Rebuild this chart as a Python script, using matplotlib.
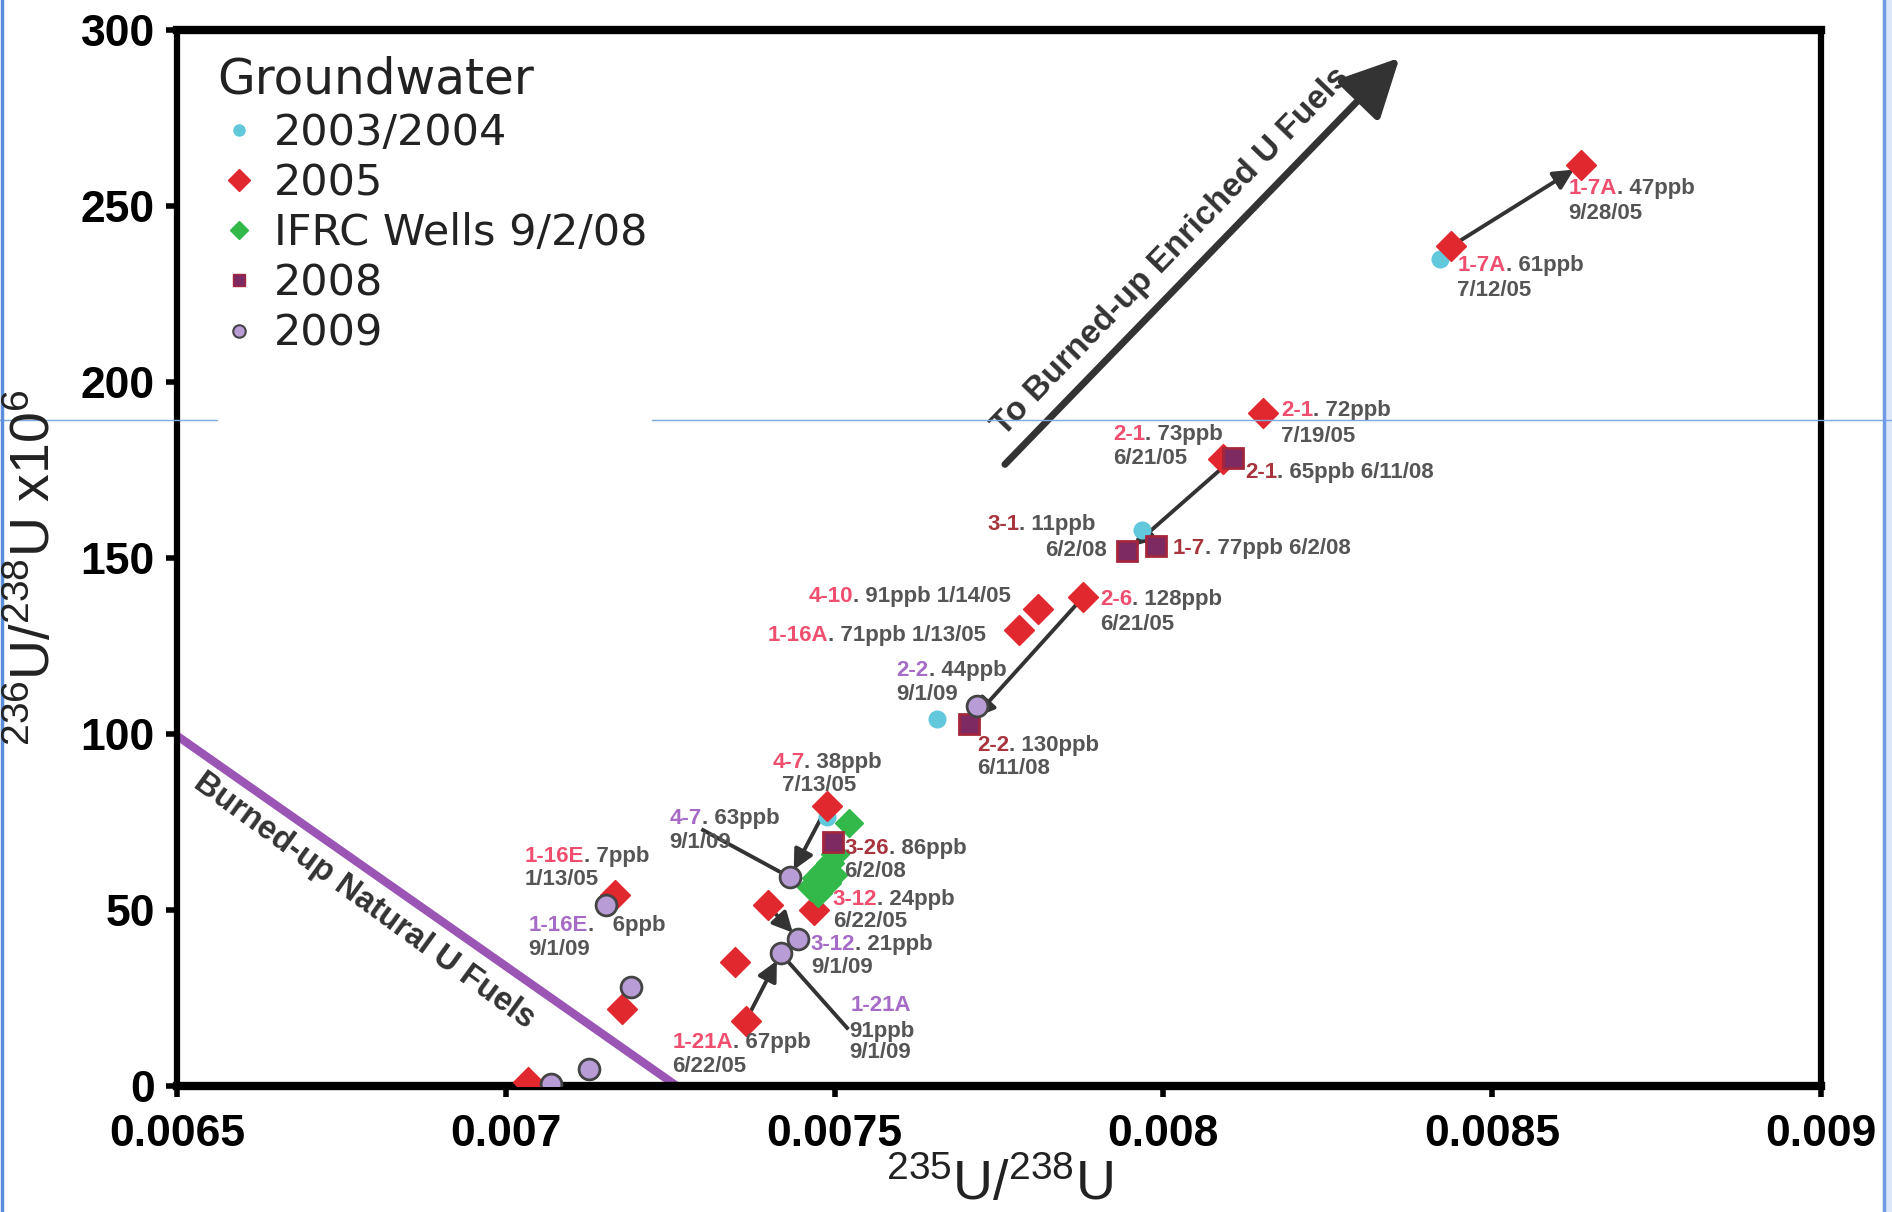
import numpy as np
import matplotlib
matplotlib.use("Agg")
import matplotlib.pyplot as plt
from matplotlib.lines import Line2D

plt.rcParams['mathtext.fontset'] = 'custom'
plt.rcParams['mathtext.rm'] = 'Liberation Sans'
plt.rcParams['mathtext.default'] = 'regular'

# ---- data (235U/238U, 236U/238U x1e6) ----
gw0304_x = [0.00842, 0.007489, 0.007655, 0.007967]
gw0304_y = [234.9, 76.5, 104.2, 158.0]

gw05_x = [0.008635, 0.008438, 0.008152, 0.008091, 0.007878, 0.007809, 0.007781,
          0.007489, 0.007469, 0.007398, 0.007348, 0.007365, 0.007166, 0.007177, 0.007034]
gw05_y = [261.6, 238.6, 191.3, 178.0, 138.9, 135.4, 129.6,
          79.5, 50.1, 51.4, 35.3, 18.5, 54.2, 21.9, 1.0]

ifrc_x = [0.007522, 0.007464, 0.007471, 0.007482, 0.007493, 0.0075, 0.007475, 0.007488, 0.007497]
ifrc_y = [74.7, 56.6, 59.0, 61.0, 63.4, 65.8, 54.9, 57.6, 60.0]

gw08_x = [0.008106, 0.007945, 0.007989, 0.007704, 0.007497]
gw08_y = [178.3, 151.9, 153.3, 102.9, 69.3]

gw09_x = [0.007717, 0.007432, 0.007153, 0.00719, 0.007445, 0.007418, 0.007126, 0.007069]
gw09_y = [108.0, 59.3, 51.4, 28.1, 41.8, 37.7, 4.8, 0.7]

# trend lines
natural_x = [0.0065, 0.00726]
natural_y = [99.5, 0.0]
enriched_x = [0.007759, 0.008359]
enriched_y = [176.6, 292.1]

# arrows between samples: (series, index) -> (series, index)
arrow_pairs = [(('05', 1), ('05', 0)), (('08', 0), ('08', 1)), (('05', 4), ('08', 3)),
               (('05', 7), ('09', 1)), (('05', 11), ('09', 5)), (('05', 9), ('09', 4))]

# well labels: code, rest of first line, second line, group
label_code = ['1-7A', '1-7A', '2-1', '2-1', '2-1', '3-1', '1-7', '4-10', '1-16A', '2-6',
              '2-2', '2-2', '4-7', '4-7', '1-16E', '1-16E', '3-26', '3-12', '3-12', '1-21A', '1-21A']
label_rest = ['. 47ppb', '. 61ppb', '. 72ppb', '. 73ppb', '. 65ppb 6/11/08', '. 11ppb',
              '. 77ppb 6/2/08', '. 91ppb 1/14/05', '. 71ppb 1/13/05', '. 128ppb',
              '. 44ppb', '. 130ppb', '. 38ppb', '. 63ppb', '. 7ppb', '.   6ppb',
              '. 86ppb', '. 24ppb', '. 21ppb', '', '. 67ppb']
label_date = ['9/28/05', '7/12/05', '7/19/05', '6/21/05', '', '6/2/08', '', '', '', '6/21/05',
              '9/1/09', '6/11/08', '7/13/05', '9/1/09', '1/13/05', '9/1/09',
              '6/2/08', '6/22/05', '9/1/09', '91ppb\n9/1/09', '6/22/05']
label_group = ['05', '05', '05', '05', '08', '08', '08', '05', '05', '05',
               '09', '08', '05', '09', '05', '09', '08', '05', '09', '09', '05']

# ---- layout for the labels (data coords of line 1 and line 2) ----
label_pos = [(0.008616, 255.1), (0.008447, 233.1), (0.008179, 192.0), (0.007923, 185.1),
             (0.008124, 174.2), (0.007732, 159.4), (0.008014, 152.6), (0.00746, 139.2),
             (0.007398, 127.9), (0.007904, 138.2), (0.007594, 117.9), (0.007717, 96.7),
             (0.007405, 91.9), (0.007249, 76.1), (0.007029, 65.1), (0.007034, 45.6),
             (0.007515, 67.5), (0.007497, 53.1), (0.007464, 40.1), (0.007524, 23.0),
             (0.007253, 12.3)]
date_pos = [(0.008616, 247.9), (0.008447, 225.9), (0.008179, 184.5), (0.007923, 178.3),
            None, (0.00782, 152.2), None, None, None, (0.007904, 131.0),
            (0.007594, 111.1), (0.007717, 90.2), (0.00742, 85.4), (0.007249, 69.3),
            (0.007029, 58.6), (0.007034, 38.7), (0.007515, 61.0), (0.007497, 46.6),
            (0.007464, 33.6), (0.007522, 18.5), (0.007253, 5.5)]
leaders = [((0.0073, 72.7), ('09', 1)), ((0.007519, 16.5), ('09', 5))]

cyan = '#62C8DC'
red = '#E1282E'
green = '#33B84A'
sq_face = '#7E2A62'
sq_edge = '#A3263C'
circ_face = '#B79CD6'
code_col = {'05': '#F04E6E', '08': '#A8343E', '09': '#A56BC6'}
gray = '#555555'
dark = '#333333'

series = {'04': (gw0304_x, gw0304_y), '05': (gw05_x, gw05_y), '08': (gw08_x, gw08_y),
          '09': (gw09_x, gw09_y)}

fig = plt.figure(figsize=(18.92, 12.12), dpi=100)
ax = fig.add_axes([177 / 1892, 1 - 1086 / 1212, 1644 / 1892, 1056 / 1212])
ax.set_xlim(0.0065, 0.009)
ax.set_ylim(0, 300)

# burned-up natural U line
ax.plot(natural_x, natural_y, color='#9B55B5', lw=6, solid_capstyle='butt', zorder=2)
ax.text(0.006785, 52.5, 'Burned-up Natural U Fuels', rotation=-36, rotation_mode='anchor',
        ha='center', va='center', fontsize=23.5, fontweight='bold', color=dark,
        family='Liberation Sans')

# enriched arrow
ax.annotate('', xy=(enriched_x[1], enriched_y[1]), xytext=(enriched_x[0], enriched_y[0]),
            arrowprops=dict(arrowstyle='-|>,head_length=0.9,head_width=0.45', lw=5,
                            color=dark, mutation_scale=40, shrinkA=0, shrinkB=0))
ax.text(0.008012, 237, 'To Burned-up Enriched U Fuels', rotation=46, rotation_mode='anchor',
        ha='center', va='center', fontsize=24, fontweight='bold', color=dark,
        family='Liberation Sans')

# sample arrows and leaders
for (s0, i0), (s1, i1) in arrow_pairs:
    x0, y0 = series[s0][0][i0], series[s0][1][i0]
    x1, y1 = series[s1][0][i1], series[s1][1][i1]
    ax.annotate('', xy=(x1, y1), xytext=(x0, y0),
                arrowprops=dict(arrowstyle='-|>,head_length=0.6,head_width=0.3', lw=2.8,
                                color=dark, mutation_scale=20, shrinkA=4, shrinkB=6),
                zorder=3)
for (lx, ly), (s, i) in leaders:
    ax.plot([lx, series[s][0][i]], [ly, series[s][1][i]], color=dark, lw=2.8, zorder=3)

# markers
ax.plot(gw0304_x, gw0304_y, 'o', ms=12, color=cyan, mec=cyan, zorder=4)
ax.plot(gw05_x, gw05_y, 'D', ms=15, color=red, mec=red, zorder=5)
ax.plot(ifrc_x, ifrc_y, 'D', ms=14, color=green, mec=green, zorder=5)
ax.plot(gw08_x, gw08_y, 's', ms=15, color=sq_face, mec=sq_edge, mew=2, zorder=6)
ax.plot(gw09_x, gw09_y, 'o', ms=15, color=circ_face, mec='#444444', mew=2, zorder=6)

# labels
lab_font = dict(fontsize=16, fontweight='bold', family='Liberation Sans')
for k in range(len(label_code)):
    x, y = label_pos[k]
    t1 = ax.text(x, y, label_code[k], color=code_col[label_group[k]], ha='left',
                 va='center', zorder=7, **lab_font)
    if label_rest[k]:
        ax.annotate(label_rest[k], xy=(1, 0.5), xycoords=t1, ha='left', va='center',
                    color=gray, zorder=7, **lab_font)
    if date_pos[k] is not None:
        dx, dy = date_pos[k]
        ax.text(dx, dy, label_date[k], color=gray, ha='left',
                va='top' if '\n' in label_date[k] else 'center',
                linespacing=1.0, zorder=7, **lab_font)

# axes styling
for side in ['top', 'bottom']:
    ax.spines[side].set_linewidth(6)
for side in ['left', 'right']:
    ax.spines[side].set_linewidth(4.5)
ax.set_xticks([0.0065, 0.007, 0.0075, 0.008, 0.0085, 0.009])
ax.set_xticklabels(['0.0065', '0.007', '0.0075', '0.008', '0.0085', '0.009'])
ax.set_yticks([0, 50, 100, 150, 200, 250, 300])
ax.tick_params(direction='out', length=8, width=4, labelsize=32)
ax.tick_params(axis='x', pad=12)
ax.tick_params(axis='y', pad=8)
for lab in ax.get_xticklabels() + ax.get_yticklabels():
    lab.set_fontfamily('Liberation Sans')
    lab.set_fontweight('bold')

fig.text(999 / 1892, 1 - 1186 / 1212, '$^{235}$U/$^{238}$U', ha='center', va='center',
         fontsize=40, family='Liberation Sans', color='#222222')
fig.text(36 / 1892, 1 - 568 / 1212, '$^{236}$U/$^{238}$U x10$^{6}$', ha='center', va='center',
         rotation=90, fontsize=40, family='Liberation Sans', color='#222222')

# legend
handles = [Line2D([], [], ls='none', marker='o', ms=8, color=cyan, mec=cyan),
           Line2D([], [], ls='none', marker='D', ms=11, color=red, mec=red),
           Line2D([], [], ls='none', marker='D', ms=9, color=green, mec=green),
           Line2D([], [], ls='none', marker='s', ms=9, color=sq_face, mec=sq_edge),
           Line2D([], [], ls='none', marker='o', ms=9, color=circ_face, mec='#444444', mew=1.5)]
names = ['2003/2004', '2005', 'IFRC Wells 9/2/08', '2008', '2009']
leg = ax.legend(handles, names, title='Groundwater', loc='upper left',
                bbox_to_anchor=(0.009, 1.0), fontsize=31, title_fontsize=35,
                frameon=True, facecolor='white', edgecolor='none', framealpha=1,
                handlelength=1.0, handletextpad=0.3, labelspacing=0.19,
                borderpad=0.1, alignment='left')
leg.set_zorder(8)
for t in leg.get_texts():
    t.set_color('#222222')
leg.get_title().set_color('#222222')

# screenshot frame lines
fig.add_artist(Line2D([0, 217 / 1892], [1 - 420 / 1212] * 2, color='#7FA8E0', lw=1))
fig.add_artist(Line2D([652 / 1892, 1], [1 - 420 / 1212] * 2, color='#7FA8E0', lw=1))
fig.add_artist(Line2D([0.0012, 0.0012], [0, 1], color='#5B8DDB', lw=2.5))
fig.patches.append(plt.Rectangle((1883 / 1892, 0), 9 / 1892, 1, transform=fig.transFigure,
                                 facecolor='#DCE7FA', edgecolor='none'))
fig.add_artist(Line2D([1884 / 1892, 1884 / 1892], [0, 1], color='#6F9BE6', lw=2.5))

fig.savefig('out.png', dpi=100)
